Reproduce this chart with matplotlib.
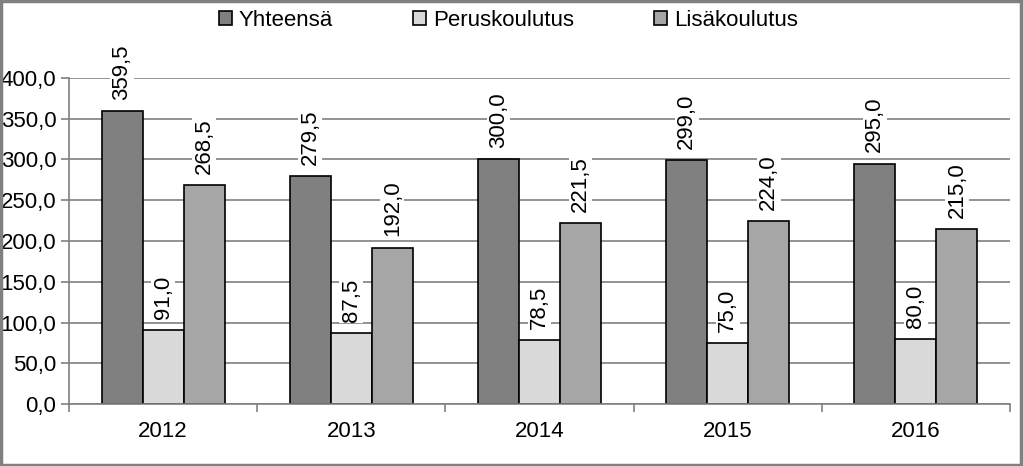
import numpy as np
import matplotlib.pyplot as plt
from matplotlib.patches import Rectangle

plt.rcParams['font.family'] = ['Liberation Sans', 'DejaVu Sans']

years = ['2012', '2013', '2014', '2015', '2016']
yhteensa = [359.5, 279.5, 300.0, 299.0, 295.0]
perus = [91.0, 87.5, 78.5, 75.0, 80.0]
lisa = [268.5, 192.0, 221.5, 224.0, 215.0]

series = [('Yhteensä', yhteensa, '#808080'),
          ('Peruskoulutus', perus, '#d9d9d9'),
          ('Lisäkoulutus', lisa, '#a6a6a6')]

def fmt(v):
    return f'{v:.1f}'.replace('.', ',')

fig = plt.figure(figsize=(10.23, 4.66), dpi=100)
ax = fig.add_axes([69/1023, 1 - 404/466, (1010-69)/1023, (404-78)/466])

x = np.arange(len(years))
w = 0.218
for i, (name, vals, col) in enumerate(series):
    pos = x + (i - 1) * w
    ax.bar(pos, vals, w, color=col, edgecolor='black', linewidth=1.2, label=name, zorder=2)
    for p, v in zip(pos, vals):
        ax.annotate(fmt(v), (p, v), xytext=(0, 8), textcoords='offset points',
                    rotation=90, ha='center', va='bottom', fontsize=16,
                    bbox=dict(facecolor='white', edgecolor='none', pad=1), zorder=3)

ax.set_xlim(-0.5, 4.5)
ax.set_ylim(0, 400)
ax.set_yticks(np.arange(0, 401, 50))
ax.set_yticklabels([fmt(v) for v in np.arange(0, 401, 50)], fontsize=16)
ax.yaxis.grid(True, color='#808080', linewidth=1.2, zorder=0)
ax.set_axisbelow(True)

ax.set_xticks(x)
ax.set_xticklabels(years, fontsize=16)
ax.tick_params(axis='x', length=0, pad=12)
ax.set_xticks(np.arange(-0.5, 5, 1), minor=True)
ax.tick_params(axis='x', which='minor', length=6, color='#808080', width=1.2)
ax.tick_params(axis='y', length=6, color='#808080', width=1.2, pad=3)

for s in ['top', 'right']:
    ax.spines[s].set_visible(False)
for s in ['left', 'bottom']:
    ax.spines[s].set_color('#808080')
    ax.spines[s].set_linewidth(1.2)

fig.legend(*ax.get_legend_handles_labels(), loc='center', bbox_to_anchor=(0.497, 0.956),
           ncol=3, frameon=False, fontsize=16, handlelength=0.6, handleheight=0.6,
           handletextpad=0.3, columnspacing=3.6, borderpad=0)

fig.patches.append(Rectangle((0.001, 0.002), 0.997, 0.995, transform=fig.transFigure,
                             fill=False, edgecolor='#808080', linewidth=2.5))

fig.savefig('out.png', dpi=100)
